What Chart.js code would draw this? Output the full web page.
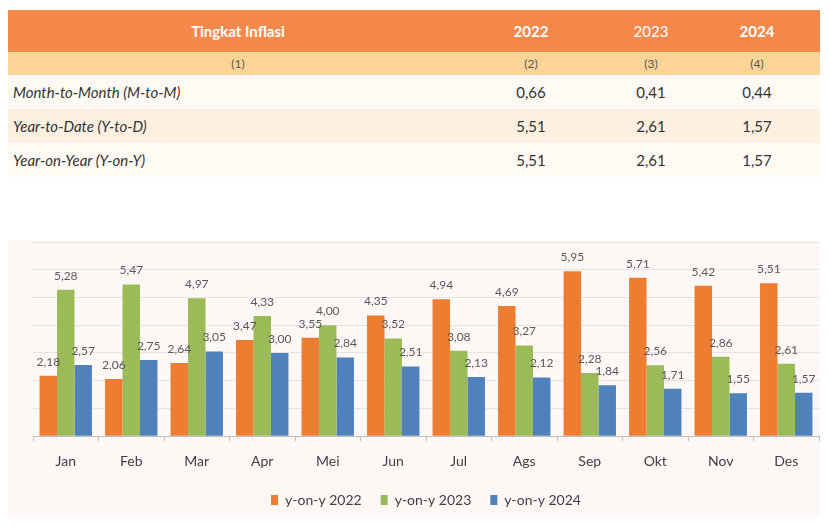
<!DOCTYPE html>
<html>
<head>
<meta charset="utf-8">
<script src="https://cdn.jsdelivr.net/npm/chart.js@4.4.1/dist/chart.umd.min.js"></script>
<style>
    body { margin: 0; background: #ffffff; font-family: Lato, "Noto Sans", sans-serif; }
    #tbl { position: absolute; left: 8px; top: 10px; width: 812px; border-collapse: collapse; table-layout: fixed; }
    #tbl td { padding: 0; color: #333333; font-size: 15px; }
    #tbl .head td { background: #f5884a; color: #ffffff; height: 42px; font-size: 15px; text-align: center; }
    #tbl .sub td { background: #fcd596; color: #555555; height: 23px; font-size: 12px; text-align: center; }
    #tbl .row td { height: 34px; text-align: center; }
    #tbl .row td.name { text-align: left; padding-left: 5px; font-style: italic; }
    #tbl .r1 td, #tbl .r3 td { background: #fffaf3; }
    #tbl .r2 td { background: #fdf0e0; }
    #chartBox { position: absolute; left: 8px; top: 240px; width: 812px; height: 277px; background: #fdf8f6; }
</style>
</head>
<body>
<table id="tbl">
    <colgroup>
        <col style="width:460px"><col style="width:126px"><col style="width:114px"><col style="width:112px">
    </colgroup>
    <tbody id="tblBody"></tbody>
</table>
<div id="chartBox"><canvas id="inflasiChart"></canvas></div>
<script>
// Table values
const tableHeader = ['Tingkat Inflasi', '2022', '2023', '2024'];
const tableSub = ['(1)', '(2)', '(3)', '(4)'];
const tableRows = ['Month-to-Month (M-to-M)', 'Year-to-Date (Y-to-D)', 'Year-on-Year (Y-on-Y)'];
const values2022 = ['0,66', '5,51', '5,51'];
const values2023 = ['0,41', '2,61', '2,61'];
const values2024 = ['0,44', '1,57', '1,57'];

// Chart values
const months = ['Jan', 'Feb', 'Mar', 'Apr', 'Mei', 'Jun', 'Jul', 'Ags', 'Sep', 'Okt', 'Nov', 'Des'];
const yoy2022 = [2.18, 2.06, 2.64, 3.47, 3.55, 4.35, 4.94, 4.69, 5.95, 5.71, 5.42, 5.51];
const yoy2023 = [5.28, 5.47, 4.97, 4.33, 4.00, 3.52, 3.08, 3.27, 2.28, 2.56, 2.86, 2.61];
const yoy2024 = [2.57, 2.75, 3.05, 3.00, 2.84, 2.51, 2.13, 2.12, 1.84, 1.71, 1.55, 1.57];

// Build table
const body = document.getElementById('tblBody');
const weights = ['700', '700', '400', '700'];
let html = '<tr class="head">' + tableHeader.map((t, i) => `<td style="font-weight:${weights[i]}${i === 3 ? ';padding-right:14px' : ''}">${t}</td>`).join('') + '</tr>';
html += '<tr class="sub">' + tableSub.map((t, i) => `<td${i === 3 ? ' style="padding-right:14px"' : ''}>${t}</td>`).join('') + '</tr>';
tableRows.forEach((name, r) => {
    html += `<tr class="row r${r + 1}"><td class="name">${name}</td><td>${values2022[r]}</td><td>${values2023[r]}</td><td style="padding-right:14px">${values2024[r]}</td></tr>`;
});
body.innerHTML = html;

// Value labels above bars
const barLabels = {
    id: 'barLabels',
    afterDatasetsDraw(chart) {
        const ctx = chart.ctx;
        ctx.save();
        ctx.font = '12px Lato';
        ctx.fillStyle = '#595959';
        ctx.textAlign = 'center';
        ctx.textBaseline = 'middle';
        chart.data.datasets.forEach((ds, i) => {
            chart.getDatasetMeta(i).data.forEach((bar, j) => {
                ctx.fillText(ds.data[j].toFixed(2).replace('.', ','), bar.x, bar.y - 14);
            });
        });
        ctx.restore();
    }
};

new Chart(document.getElementById('inflasiChart'), {
    type: 'bar',
    data: {
        labels: months,
        datasets: [
            { label: 'y-on-y 2022', data: yoy2022, backgroundColor: '#ed7d31' },
            { label: 'y-on-y 2023', data: yoy2023, backgroundColor: '#9bbb59' },
            { label: 'y-on-y 2024', data: yoy2024, backgroundColor: '#4f81bd' },
        ],
    },
    options: {
        responsive: true,
        maintainAspectRatio: false,
        animation: false,
        datasets: { bar: { barPercentage: 1, categoryPercentage: 0.8 } },
        layout: { padding: { left: 25, right: 1, top: 2, bottom: 0 } },
        plugins: {
            tooltip: { enabled: false },
            legend: {
                position: 'bottom',
                labels: {
                    boxWidth: 7,
                    boxHeight: 10,
                    padding: 19,
                    color: '#404040',
                    font: { family: 'Lato', size: 14 },
                },
            },
        },
        scales: {
            x: {
                grid: { drawOnChartArea: false, drawTicks: true, tickLength: 5, color: '#bfbfbf' },
                border: { color: '#bfbfbf' },
                ticks: { color: '#404040', font: { family: 'Lato', size: 14 }, padding: 12 },
                afterFit: scale => { scale.height -= 8; },
            },
            y: {
                min: 0,
                max: 7,
                ticks: { display: false, stepSize: 1 },
                grid: { color: '#e3e3e3', drawTicks: false },
                border: { display: false },
            },
        },
    },
    plugins: [barLabels],
});
</script>
</body>
</html>
